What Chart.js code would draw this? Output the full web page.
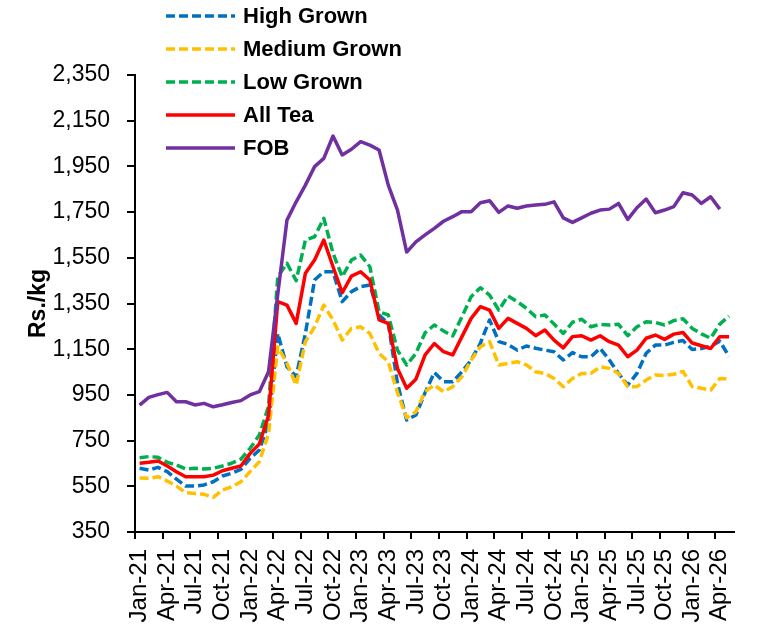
<!DOCTYPE html>
<html><head><meta charset="utf-8">
<script src="https://cdn.jsdelivr.net/npm/chart.js@4.4.1/dist/chart.umd.min.js"></script>
<style>
html,body{margin:0;padding:0;background:#fff;}
#wrap{position:relative;width:768px;height:624px;overflow:hidden;background:#fff;}
#c{position:absolute;left:0;top:0;}
#legend{position:absolute;left:166px;top:0;font:bold 22px "Liberation Sans",Arial,sans-serif;color:#000;}
.item{position:absolute;left:0;height:33px;display:flex;align-items:center;white-space:nowrap;}
.item svg{width:69px;height:10px;margin-right:8px;display:block;}
</style></head><body>
<div id="wrap"><canvas id="c" width="768" height="624"></canvas><div id="legend"></div></div>
<script>
const categories = ['Jan-21','Feb-21','Mar-21','Apr-21','May-21','Jun-21','Jul-21','Aug-21','Sep-21','Oct-21','Nov-21','Dec-21',
'Jan-22','Feb-22','Mar-22','Apr-22','May-22','Jun-22','Jul-22','Aug-22','Sep-22','Oct-22','Nov-22','Dec-22',
'Jan-23','Feb-23','Mar-23','Apr-23','May-23','Jun-23','Jul-23','Aug-23','Sep-23','Oct-23','Nov-23','Dec-23',
'Jan-24','Feb-24','Mar-24','Apr-24','May-24','Jun-24','Jul-24','Aug-24','Sep-24','Oct-24','Nov-24','Dec-24',
'Jan-25','Feb-25','Mar-25','Apr-25','May-25','Jun-25','Jul-25','Aug-25','Sep-25','Oct-25','Nov-25','Dec-25',
'Jan-26','Feb-26','Mar-26','Apr-26','May-26'];

const highGrown = [629,621,633,614,581,551,551,556,570,595,607,624,
672,709,825,1219,1073,1030,1219,1453,1489,1489,1358,1402,
1424,1431,1300,1263,1000,840,862,960,1048,1008,1008,1051,
1103,1176,1278,1183,1171,1146,1164,1154,1146,1139,1103,1135,
1117,1117,1154,1103,1044,993,1044,1132,1168,1168,1180,1188,
1149,1153,1163,1185,1118];

const mediumGrown = [586,585,592,573,551,522,519,515,502,534,548,570,
614,658,780,1161,1088,993,1183,1248,1343,1278,1190,1241,
1248,1219,1132,1095,960,850,876,965,993,964,986,1030,
1103,1161,1183,1081,1088,1095,1081,1051,1044,1022,986,1022,
1044,1044,1073,1066,1044,986,986,1015,1037,1035,1040,1053,
986,979,971,1022,1020];

const lowGrown = [675,680,677,655,643,626,629,626,629,639,651,669,
716,774,900,1467,1526,1450,1628,1642,1723,1570,1467,1540,
1562,1511,1314,1300,1146,1081,1132,1222,1256,1230,1208,1292,
1380,1419,1387,1321,1383,1358,1329,1292,1300,1260,1219,1268,
1281,1248,1259,1256,1259,1209,1248,1270,1267,1256,1275,1283,
1241,1217,1198,1260,1295];

const allTea = [651,655,661,639,614,592,592,592,599,618,629,639,
694,735,860,1358,1343,1263,1482,1540,1628,1511,1397,1470,
1489,1453,1278,1263,1066,979,1019,1125,1175,1139,1125,1205,
1285,1336,1321,1241,1285,1263,1241,1209,1234,1190,1156,1205,
1209,1190,1209,1183,1168,1117,1146,1198,1212,1193,1216,1223,
1177,1165,1153,1205,1205];

const fob = [905,939,951,961,920,920,906,913,898,907,917,925,
950,964,1051,1390,1715,1795,1868,1949,1985,2083,2000,2025,
2058,2043,2022,1868,1759,1575,1620,1650,1679,1710,1730,1752,
1752,1791,1800,1749,1777,1767,1777,1781,1784,1795,1725,1705,
1725,1745,1759,1763,1788,1718,1769,1807,1747,1759,1774,1835,
1825,1788,1817,1763,null];

const yTicks = [350,550,750,950,1150,1350,1550,1750,1950,2150,2350];
const seriesNames = ['High Grown','Medium Grown','Low Grown','All Tea','FOB'];
const seriesColors = ['#0070C0','#FFC000','#00B050','#FF0000','#7030A0'];
const seriesDash = [[9,4],[9,4],[9,4],[],[]];
const seriesData = [highGrown, mediumGrown, lowGrown, allTea, fob];

Chart.defaults.font.family = "'Liberation Sans', Arial, sans-serif";
Chart.defaults.color = '#000';

const datasets = seriesData.map((d, k) => ({
  label: seriesNames[k],
  data: d,
  borderColor: seriesColors[k],
  backgroundColor: seriesColors[k],
  borderWidth: 3.5,
  borderDash: seriesDash[k],
  borderCapStyle: 'butt',
  borderJoinStyle: 'round',
  pointRadius: 0,
  pointHoverRadius: 0,
  tension: 0,
  fill: false,
  spanGaps: false,
  order: 5 - k
}));

const chart = new Chart(document.getElementById('c'), {
  type: 'line',
  data: { labels: categories, datasets },
  options: {
    responsive: false,
    animation: false,
    devicePixelRatio: 1,
    layout: { padding: { left: 25, top: 75, right: 20, bottom: 0 } },
    plugins: { legend: { display: false }, tooltip: { enabled: false } },
    scales: {
      x: {
        type: 'category',
        offset: true,
        afterFit: s => { s.height = 92; },
        border: { display: true, color: '#000', width: 2 },
        grid: {
          offset: true,
          drawOnChartArea: false,
          drawTicks: true,
          tickLength: 7,
          lineWidth: 2,
          color: ctx => (ctx.index % 3 === 0 ? '#000' : 'rgba(0,0,0,0)')
        },
        ticks: {
          autoSkip: false,
          minRotation: 90,
          maxRotation: 90,
          padding: 10,
          font: { size: 24 },
          color: '#000',
          callback: (v, i) => (i % 3 === 0 ? categories[i] : '')
        }
      },
      y: {
        min: 350,
        max: 2350,
        afterFit: s => { s.width = 135 - 25; },
        afterBuildTicks: s => { s.ticks = yTicks.map(v => ({ value: v })); },
        border: { display: true, color: '#000', width: 2 },
        grid: { drawOnChartArea: false, drawTicks: true, tickLength: 8, lineWidth: 2, color: '#000' },
        ticks: {
          padding: 17,
          font: { size: 23 },
          color: '#000',
          callback: v => Number(v).toLocaleString('en-US')
        },
        title: {
          display: true,
          text: 'Rs./kg',
          font: { size: 23, weight: 'bold' },
          color: '#000',
          padding: 0
        }
      }
    }
  }
});

// HTML legend built from the chart's datasets
const legend = document.getElementById('legend');
chart.data.datasets.forEach((ds, k) => {
  const item = document.createElement('div');
  item.className = 'item';
  item.style.top = (16 + 33 * k - 16.5) + 'px';
  const dash = ds.borderDash && ds.borderDash.length ? ds.borderDash.join(' ') : 'none';
  item.innerHTML = '<svg viewBox="0 0 69 10"><line x1="0" y1="5" x2="69" y2="5" stroke="' + ds.borderColor +
    '" stroke-width="3.5" stroke-dasharray="' + dash + '"/></svg>';
  const span = document.createElement('span');
  span.textContent = ds.label;
  item.appendChild(span);
  legend.appendChild(item);
});
</script>
</body></html>
